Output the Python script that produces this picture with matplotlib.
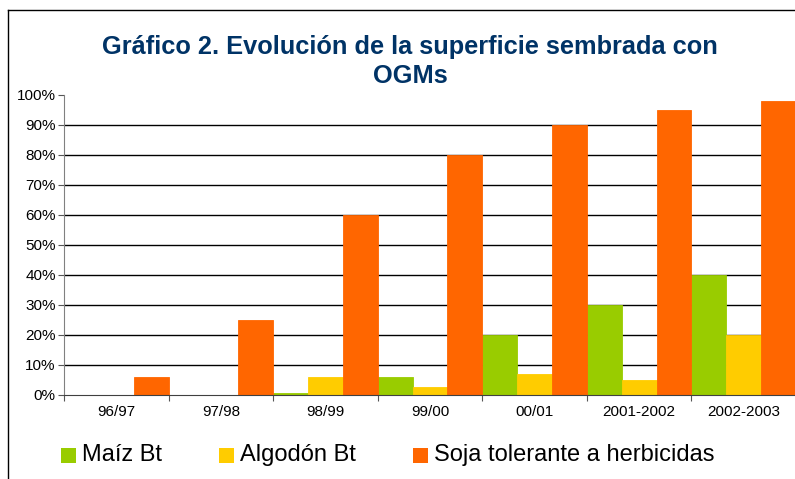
import numpy as np
import matplotlib
matplotlib.use("Agg")
import matplotlib.pyplot as plt
from matplotlib.lines import Line2D
from matplotlib.patches import Rectangle

# data (percent of sown area)
campaigns = ['96/97', '97/98', '98/99', '99/00', '00/01', '2001-2002', '2002-2003']
maiz_bt = [0, 0, 0.7, 6, 20, 30, 40]
algodon_bt = [0, 0, 6, 2.7, 7, 5, 20]
soja_th = [6, 25, 60, 80, 90, 95, 98]
series_names = ['Maíz Bt', 'Algodón Bt', 'Soja tolerante a herbicidas']
colors = ['#99cc00', '#ffcc00', '#ff6600']
yticks = [0, 10, 20, 30, 40, 50, 60, 70, 80, 90, 100]

plt.rcParams['font.family'] = ['Liberation Sans', 'DejaVu Sans']

fig = plt.figure(figsize=[7.95, 4.79], dpi=100)
ax = fig.add_axes([64/795, 1 - 395/479, 732/795, 300/479])

x = np.arange(len(campaigns))
w = 1/3
for i, (vals, c) in enumerate(zip([maiz_bt, algodon_bt, soja_th], colors)):
    ax.bar(x + i*w, vals, width=w, align='edge', color=c, edgecolor=c,
           linewidth=0.6, zorder=3)

ax.set_xlim(0, len(campaigns))
ax.set_ylim(0, 100)

# grid lines (no line at 100%)
for y in yticks[1:-1]:
    ax.axhline(y, color='black', linewidth=1, zorder=1)

ax.set_yticks(yticks)
ax.set_yticklabels([f'{v}%' for v in yticks], fontsize=11)
ax.set_xticks(np.arange(len(campaigns) + 1))
ax.set_xticklabels([])
ax.set_xticks(x + 0.5, minor=True)
ax.set_xticklabels(campaigns, minor=True, fontsize=11)
ax.tick_params(axis='x', which='minor', length=0, pad=7)
ax.tick_params(axis='x', which='major', length=4, color='#555555')
ax.tick_params(axis='y', length=4, color='#555555', pad=2)

for s in ['top', 'right']:
    ax.spines[s].set_visible(False)
ax.spines['left'].set_color('#808080')
ax.spines['bottom'].set_color('#404040')
ax.spines['left'].set_zorder(4)
ax.spines['bottom'].set_zorder(4)

fig.text(410/795, 1 - 47/479, 'Gráfico 2. Evolución de la superficie sembrada con',
         ha='center', va='center', fontsize=18.3, fontweight='bold', color='#003366')
fig.text(410/795, 1 - 76/479, 'OGMs',
         ha='center', va='center', fontsize=18.3, fontweight='bold', color='#003366')

# legend entries placed as in the original
leg_x = [61, 219, 413]
for name, c, lx in zip(series_names, colors, leg_x):
    fig.add_artist(Rectangle((lx/795, 1 - 463/479), 15/795, 15/479,
                             transform=fig.transFigure, facecolor=c, edgecolor='none'))
    fig.text((lx + 21)/795, 1 - 455/479, name, ha='left', va='center', fontsize=17)

# outer frame lines (left and top)
fig.add_artist(Line2D([8/795, 8/795], [0, 1 - 10/479], transform=fig.transFigure,
                      color='black', linewidth=1))
fig.add_artist(Line2D([8/795, 1], [1 - 10/479, 1 - 10/479], transform=fig.transFigure,
                      color='black', linewidth=1))

fig.savefig('out.png', dpi=100)
